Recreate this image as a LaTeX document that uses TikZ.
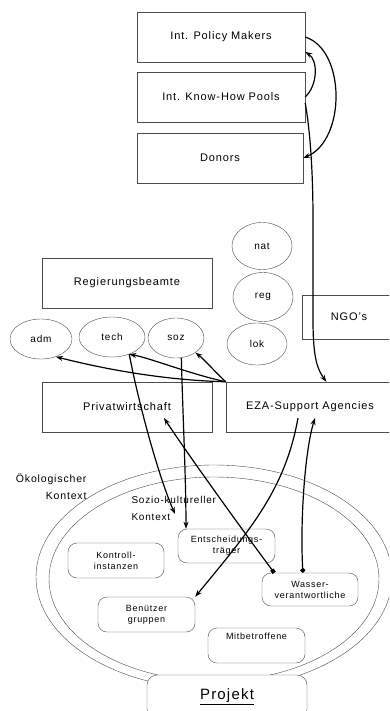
\documentclass[tikz,border=0pt]{standalone}
\usepackage{fontspec}
\setmainfont{Liberation Sans}[LetterSpace=8]
\usetikzlibrary{arrows.meta,shapes.geometric,calc}

\tikzset{
  box/.style={rectangle, draw=black!70, thin, fill=white, minimum width=168pt,
    minimum height=50pt, inner sep=0pt, font=\fontsize{11}{13}\selectfont},
  blob/.style={ellipse, draw=black!70, thin, fill=white, inner sep=0pt,
    font=\fontsize{10}{12}\selectfont},
  rbox/.style={rectangle, rounded corners=9pt, draw=black!70, thin, fill=white,
    minimum width=97pt, minimum height=35pt, inner sep=2pt, align=center,
    font=\fontsize{9}{11}\selectfont},
  ring/.style={ellipse, draw=black!70, thin, inner sep=0pt},
  link/.style={line width=1.2pt, -{Stealth[length=7pt,width=5pt]}},
  sqlink/.style={link, {Square[length=4pt,width=4pt]}-{Stealth[length=7pt,width=5pt]}},
  dotlink/.style={link, {Circle[length=5pt]}-{Stealth[length=7pt,width=5pt]}},
}

\begin{document}
\begin{tikzpicture}[x=1pt, y=-1pt]
  \useasboundingbox (0, 0) rectangle (389, 711);
  \clip (0, 0) rectangle (389, 711);

  %context rings
  \node at (214, 577) [ring, minimum width=356pt, minimum height=224pt] (oeko) {};
  \node at (214, 579) [ring, minimum width=330pt, minimum height=204pt] (sozio) {};
  \node at (90, 487) [anchor=east, align=right, font=\fontsize{10.5}{17}\selectfont] (oekotext) {Ökologischer\\Kontext};
  \node at (128, 508) [anchor=west, align=left, font=\fontsize{10}{17}\selectfont] (soziotext) {Sozio-kultureller\\Kontext};

  %nodes
  \node at (221, 37) [box] (policy) {Int. Policy Makers};
  \node at (221, 97) [box] (knowhow) {Int. Know-How Pools};
  \node at (220, 158) [box, minimum width=166pt] (donors) {Donors};
  \node at (127, 283) [box, minimum width=170pt] (regierung) {Regierungsbeamte};
  \node at (349, 317) [box, minimum width=94pt, minimum height=44pt] (ngo) {NGO's};
  \node at (127, 407) [box, minimum width=170pt] (privat) {Privatwirtschaft};
  \node at (310, 407) [box] (eza) {EZA-Support Agencies};

  \node at (262, 246) [blob, minimum width=60pt, minimum height=47pt] (nat) {nat};
  \node at (263, 297) [blob, minimum width=60pt, minimum height=49pt] (reg) {reg};
  \node at (257, 344) [blob, minimum width=60pt, minimum height=42pt] (lok) {lok};
  \node at (41, 339) [blob, minimum width=62pt, minimum height=40pt] (adm) {adm};
  \node at (112, 337) [blob, minimum width=66pt, minimum height=40pt] (tech) {tech};
  \node at (176, 338) [blob, minimum width=56pt, minimum height=40pt] (soz) {soz};

  \node at (226.5, 546) [rbox, minimum height=34pt] (entscheid) {Entscheidungs-\\träger};
  \node at (116, 560.5) [rbox, minimum width=96pt] (kontroll) {Kontroll-\\instanzen};
  \node at (310, 589.5) [rbox, minimum width=96pt, minimum height=33pt] (wasser) {Wasser-\\verantwortliche};
  \node at (146.5, 614.5) [rbox] (benutzer) {Benützer\\gruppen};
  \node at (256.5, 645.5) [rbox, text depth=18pt] (mitbetroffen) {Mitbetroffene};
  \node at (227, 697) [rbox, minimum width=160pt, minimum height=44pt, rounded corners=10pt,
    font=\fontsize{15}{17}\selectfont] (projekt) {\underline{Projekt}};

  \coordinate (kontextpfeil) at (175, 514);
  \coordinate (privatziel) at ($(privat.center)+(37,11)$);

  %edges
  \draw[link] (policy.east) .. controls (346, 50) and (346, 140) .. (donors.east);
  \draw[link] (knowhow.east) .. controls (318, 85) and (318, 60) .. (policy.-10);
  \draw[link] (knowhow.-4) .. controls (310, 130) and (313, 170) .. (313, 220)
    -- (313, 320) .. controls (313, 360) and (318, 370) .. (eza.57);

  \draw[link] (eza.north west) .. controls (160, 380) and (100, 368) .. (adm.-50);
  \draw[link] (eza.north west) .. controls (190, 374) and (150, 358) .. (tech.-45);
  \draw[link] (eza.north west) .. controls (215, 372) and (205, 360) .. (soz.-37);

  \draw[link] (tech.-45) .. controls (140, 410) and (160, 480) .. (kontextpfeil);
  \draw[link] (soz.-75) .. controls (183, 420) and (186, 480) .. (entscheid.157);
  \draw[sqlink] (wasser.155) .. controls (235, 520) and (185, 450) .. (privatziel);
  \draw[link] ($(eza.center)+(-12,11)$) .. controls (285, 490) and (250, 530) .. (benutzer.north east);
  \draw[dotlink] (wasser.113) .. controls (300, 520) and (305, 450) .. ($(eza.center)+(5,11)$);
\end{tikzpicture}
\end{document}
